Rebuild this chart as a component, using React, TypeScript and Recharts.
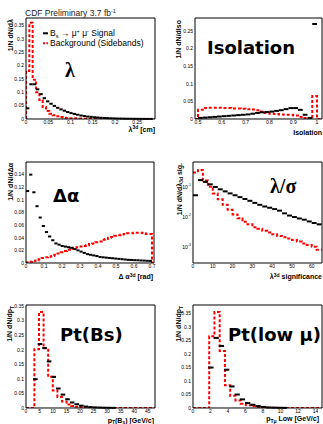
import { ComposedChart, Line, Scatter, ErrorBar, XAxis, YAxis } from 'recharts'

// λ 3D decay length, bins of 0.0075 cm starting at 0
const LAM_START = 0
const LAM_BIN = 0.0075
const lamSignal = [0.04, 0.13, 0.13, 0.111, 0.093, 0.078, 0.066, 0.057, 0.049, 0.042, 0.036, 0.031, 0.026, 0.022, 0.019, 0.016, 0.013, 0.011, 0.009, 0.008, 0.0065, 0.0055, 0.0045, 0.004, 0.0033, 0.0027, 0.0022, 0.0018, 0.0015, 0.0012, 0.001, 0.0008, 0.0007, 0.0006, 0.0005, 0.0004, 0.0003, 0.0003]
const lamBackground = [0.18, 0.36, 0.147, 0.1, 0.071, 0.045, 0.03, 0.02, 0.014, 0.01, 0.007, 0.005, 0.004, 0.003, 0.0025, 0.002, 0.0015, 0.0012, 0.001, 0.0008, 0.0007, 0.0006, 0.0005, 0.0005, 0.0004, 0.0004, 0.0003, 0.0003, 0.0003, 0.0002, 0.0002, 0.0002, 0.0002, 0.0001, 0.0001, 0.0001, 0.0001, 0.0001]
const lamXTicks = [0, 0.05, 0.1, 0.15, 0.2, 0.25]
const lamYTicks = [0, 0.05, 0.1, 0.15, 0.2, 0.25, 0.3, 0.35]

// isolation, bins of 0.02 from 0.5
const ISO_START = 0.5
const ISO_BIN = 0.02
const isoSignal = [0.003, 0.004, 0.005, 0.006, 0.007, 0.008, 0.009, 0.01, 0.011, 0.012, 0.013, 0.015, 0.017, 0.019, 0.02, 0.021, 0.023, 0.025, 0.028, 0.031, 0.031, 0.026, 0.012, 0.003, 0.27]
const isoBackground = [0.026, 0.031, 0.032, 0.032, 0.032, 0.031, 0.031, 0.03, 0.03, 0.029, 0.028, 0.027, 0.025, 0.021, 0.017, 0.015, 0.014, 0.013, 0.012, 0.012, 0.01, 0.006, 0.003, 0.001, 0.065]
const isoXTicks = [0.5, 0.6, 0.7, 0.8, 0.9, 1]
const isoYTicks = [0, 0.05, 0.1, 0.15, 0.2, 0.25]

// Δα 3D pointing angle, bins of 0.0175 rad
const DA_START = 0
const DA_BIN = 0.0175
const daSignal = [0.114, 0.14, 0.112, 0.09, 0.072, 0.0586, 0.049, 0.042, 0.036, 0.031, 0.029, 0.027, 0.026, 0.025, 0.024, 0.022, 0.02, 0.018, 0.016, 0.014, 0.013, 0.012, 0.011, 0.0095, 0.009, 0.0085, 0.008, 0.0075, 0.007, 0.0065, 0.006, 0.0055, 0.005, 0.0048, 0.0045, 0.0043, 0.004, 0.0038, 0.0035, 0.0033]
const daBackground = [0.001, 0.002, 0.003, 0.004, 0.006, 0.008, 0.009, 0.01, 0.011, 0.013, 0.015, 0.017, 0.019, 0.021, 0.022, 0.024, 0.025, 0.026, 0.027, 0.028, 0.03, 0.031, 0.033, 0.034, 0.037, 0.038, 0.04, 0.041, 0.043, 0.044, 0.045, 0.046, 0.047, 0.047, 0.048, 0.048, 0.048, 0.047, 0.046, 0.046]
const daXTicks = [0, 0.1, 0.2, 0.3, 0.4, 0.5, 0.6, 0.7]
const daYTicks = [0, 0.02, 0.04, 0.06, 0.08, 0.1, 0.12, 0.14]

// λ/σ significance (log y), bins of 2.5
const SIG_START = 0
const SIG_BIN = 2.5
const sigSignal = [0.052, 0.166, 0.145, 0.12, 0.098, 0.082, 0.07, 0.06, 0.052, 0.045, 0.039, 0.034, 0.029, 0.025, 0.022, 0.02, 0.018, 0.016, 0.013, 0.011, 0.0098, 0.0088, 0.008, 0.007, 0.0062, 0.0056]
const sigBackground = [0.3, 0.36, 0.16, 0.1, 0.06, 0.038, 0.025, 0.017, 0.012, 0.0089, 0.0068, 0.0056, 0.0045, 0.004, 0.0034, 0.003, 0.0026, 0.0023, 0.0021, 0.0019, 0.0017, 0.0015, 0.0013, 0.00115, 0.001, 0.0008]
const sigXTicks = [0, 10, 20, 30, 40, 50, 60]
const sigYTicks = [0.001, 0.01, 0.1]

// pT(Bs), bins of 1.7 GeV/c
const PT_BIN = 1.7
const PT_SIG_START = 2.6
const PT_BKG_START = 3.1
const ptSignal = [0.099, 0.22, 0.206, 0.16, 0.107, 0.067, 0.046, 0.03, 0.019, 0.013, 0.008, 0.005, 0.003, 0.002, 0.0015, 0.001, 0.0007, 0.0005]
const ptBackground = [0.202, 0.33, 0.205, 0.107, 0.06, 0.038, 0.022, 0.012, 0.007, 0.004, 0.002, 0.001, 0.0005]
const ptXTicks = [0, 5, 10, 15, 20, 25, 30, 35, 40, 45]
const ptYTicks = [0, 0.05, 0.1, 0.15, 0.2, 0.25, 0.3, 0.35]

// pT of the softer muon, bins of 0.6 GeV/c
const MU_BIN = 0.6
const MU_SIG_START = 1.75
const MU_BKG_START = 1.85
const muSignal = [0.15, 0.26, 0.23, 0.142, 0.08, 0.05, 0.032, 0.0185, 0.012, 0.007, 0.004, 0.002, 0.0012, 0.0008, 0.0005]
const muBackground = [0.266, 0.356, 0.211, 0.084, 0.045, 0.028, 0.016, 0.01, 0.006, 0.004, 0.002, 0.001, 0.0005]
const muXTicks = [0, 2, 4, 6, 8, 10, 12, 14]
const muYTicks = [0, 0.05, 0.1, 0.15, 0.2, 0.25, 0.3, 0.35]

const RED = '#f00'
const ML = 26
const MT = 16
const MR = 4
const MB = 18
const THIN = 0.01 // axes must have a non-zero size or Recharts skips them

type Pt = { x: number; y: number; ex?: number }

// signal: one point per bin centre with half-width as x error
function bins(start: number, width: number, vals: number[]): Pt[] {
  return vals.map((v, i) => ({ x: start + width * (i + 0.5), y: v, ex: width / 2 }))
}

// background: outline drawn as a stepAfter line through the bin edges
function outline(start: number, width: number, vals: number[], range: [number, number] | null): Pt[] {
  const pts: Pt[] = []
  if (range) pts.push({ x: range[0], y: 0 })
  vals.forEach((v, i) => pts.push({ x: start + width * i, y: v }))
  const end = start + width * vals.length
  if (range) {
    pts.push({ x: end, y: 0 })
    pts.push({ x: range[1], y: 0 })
  } else {
    pts.push({ x: end, y: vals[vals.length - 1] })
  }
  return pts
}

function minor(a: number, b: number, step: number): number[] {
  const out: number[] = []
  for (let v = a; v <= b + 1e-9; v += step) out.push(Math.round(v * 1e6) / 1e6)
  return out
}

function logMinor(lo: number, hi: number): number[] {
  const out: number[] = []
  for (let d = -4; d <= 0; d++) for (let m = 1; m <= 9; m++) {
    const v = m * Math.pow(10, d)
    if (v >= lo && v <= hi) out.push(v)
  }
  return out
}

function PowTick({ x, y, payload }: any) {
  const e = Math.round(Math.log10(payload.value))
  return (
    <text x={x} y={y} dy={2} textAnchor="end" fontSize={5} fill="#000">
      10<tspan dy={-2.5} fontSize={3.5}>{e}</tspan>
    </text>
  )
}

interface PanelProps {
  left: number; top: number; w: number; h: number
  xDomain: [number, number]; yDomain: [number, number]
  xTicks: number[]; yTicks: number[]; xMinor: number[]; yMinor: number[]
  log?: boolean
  sig: Pt[]; bkg: Pt[]
}

function Panel(p: PanelProps) {
  const yScale = p.log ? 'log' : 'linear'
  const ax = { type: 'number' as const, allowDataOverflow: true, interval: 0 as const, stroke: '#000' }
  const xa = { ...ax, domain: p.xDomain, height: THIN }
  const ya = { ...ax, domain: p.yDomain, scale: yScale as any, width: THIN }
  return (
    <div style={{ position: 'absolute', left: p.left - ML, top: p.top - MT }}>
      <ComposedChart width={p.w + ML + MR} height={p.h + MT + MB} margin={{ top: MT, right: MR, bottom: MB, left: ML }}>
        {/* inward ticks on all four sides, frame from the top/right axis lines */}
        <XAxis xAxisId="b1" {...xa} ticks={p.xTicks} mirror tick={false} tickSize={3.5} axisLine={false} />
        <XAxis xAxisId="b2" {...xa} ticks={p.xMinor} mirror tick={false} tickSize={1.8} axisLine={false} />
        <XAxis xAxisId="t1" {...xa} orientation="top" ticks={p.xTicks} mirror tick={false} tickSize={3.5} />
        <XAxis xAxisId="t2" {...xa} orientation="top" ticks={p.xMinor} mirror tick={false} tickSize={1.8} axisLine={false} />
        <YAxis yAxisId="l1" {...ya} ticks={p.yTicks} mirror tick={false} tickSize={3.5} axisLine={false} />
        <YAxis yAxisId="l2" {...ya} ticks={p.yMinor} mirror tick={false} tickSize={1.8} axisLine={false} />
        <YAxis yAxisId="r1" {...ya} orientation="right" ticks={p.yTicks} mirror tick={false} tickSize={3.5} />
        <YAxis yAxisId="r2" {...ya} orientation="right" ticks={p.yMinor} mirror tick={false} tickSize={1.8} axisLine={false} />
        <XAxis xAxisId="x" dataKey="x" {...xa} ticks={p.xTicks} tickLine={false} tickSize={0} tickMargin={1.5}
          tick={{ fontSize: 5, fill: '#000' }} />
        <YAxis yAxisId="y" dataKey="y" {...ya} ticks={p.yTicks} tickLine={false} tickSize={0} tickMargin={2}
          tick={p.log ? PowTick : { fontSize: 5, fill: '#000' }} />
        <Line xAxisId="x" yAxisId="y" data={p.bkg} dataKey="y" type="stepAfter" stroke={RED}
          strokeWidth={2} strokeDasharray="3 2" dot={false} isAnimationActive={false} />
        <Scatter xAxisId="x" yAxisId="y" data={p.sig} fill="#000" shape={() => <g />} isAnimationActive={false}>
          <ErrorBar dataKey="ex" direction="x" width={0} stroke="#000" strokeWidth={2} isAnimationActive={false} />
        </Scatter>
      </ComposedChart>
    </div>
  )
}

const SANS = "'Liberation Sans', Arial, sans-serif"
const BIG = "'DejaVu Sans', sans-serif"
const SERIF = "'Liberation Serif', 'DejaVu Serif', serif"

export default function App() {
  const lamX: [number, number] = [0, 0.29]
  const isoX: [number, number] = [0.4874, 1.021]
  const daX: [number, number] = [0, 0.711]
  const sigX: [number, number] = [0, 65.2]
  const ptX: [number, number] = [0, 47.7]
  const muX: [number, number] = [0, 14.75]
  const sigY: [number, number] = [0.00029, 0.665]

  return (
    <div style={{ position: 'absolute', left: 0, top: 0, width: 323, height: 424, overflow: 'hidden', background: '#fff', fontFamily: SANS }}>
      <Panel left={26} top={18} w={129} h={101} xDomain={lamX} yDomain={[0, 0.378]}
        xTicks={lamXTicks} yTicks={lamYTicks} xMinor={minor(0, 0.29, 0.01)} yMinor={minor(0, 0.37, 0.01)}
        sig={bins(LAM_START, LAM_BIN, lamSignal)} bkg={outline(LAM_START, LAM_BIN, lamBackground, lamX)} />
      <Panel left={195} top={18} w={127} h={101} xDomain={isoX} yDomain={[0, 0.287]}
        xTicks={isoXTicks} yTicks={isoYTicks} xMinor={minor(0.5, 1.02, 0.02)} yMinor={minor(0, 0.28, 0.01)}
        sig={bins(ISO_START, ISO_BIN, isoSignal)} bkg={outline(ISO_START, ISO_BIN, isoBackground, isoX)} />
      <Panel left={26} top={162} w={128} h={101} xDomain={daX} yDomain={[0, 0.16]}
        xTicks={daXTicks} yTicks={daYTicks} xMinor={minor(0, 0.71, 0.02)} yMinor={minor(0, 0.16, 0.005)}
        sig={bins(DA_START, DA_BIN, daSignal)} bkg={outline(DA_START, DA_BIN, daBackground, daX)} />
      <Panel left={193} top={162} w={129} h={101} xDomain={sigX} yDomain={sigY} log
        xTicks={sigXTicks} yTicks={sigYTicks} xMinor={minor(0, 65, 2)} yMinor={logMinor(sigY[0], sigY[1])}
        sig={bins(SIG_START, SIG_BIN, sigSignal)} bkg={outline(SIG_START, SIG_BIN, sigBackground, null)} />
      <Panel left={26} top={305} w={129} h={103} xDomain={ptX} yDomain={[0, 0.354]}
        xTicks={ptXTicks} yTicks={ptYTicks} xMinor={minor(0, 47, 1)} yMinor={minor(0, 0.35, 0.01)}
        sig={bins(PT_SIG_START, PT_BIN, ptSignal)} bkg={outline(PT_BKG_START, PT_BIN, ptBackground, ptX)} />
      <Panel left={193} top={305} w={129} h={103} xDomain={muX} yDomain={[0, 0.382]}
        xTicks={muXTicks} yTicks={muYTicks} xMinor={minor(0, 14.5, 0.5)} yMinor={minor(0, 0.38, 0.01)}
        sig={bins(MU_SIG_START, MU_BIN, muSignal)} bkg={outline(MU_BKG_START, MU_BIN, muBackground, muX)} />

      <svg width={323} height={424} style={{ position: 'absolute', left: 0, top: 0, pointerEvents: 'none' }} fontFamily={SANS} fill="#000">
        <text x={25} y={15.7} fontSize={8.5} fill="#222">CDF Preliminary 3.7 fb<tspan dy={-3} fontSize={5.5}>-1</tspan></text>

        {/* legend */}
        <line x1={43} x2={48} y1={33.3} y2={33.3} stroke="#000" strokeWidth={2} />
        <text x={50} y={36.3} fontSize={8.5}>
          B<tspan fontSize={5.5} dy={1.5}>s</tspan><tspan dy={-1.5}> → μ</tspan><tspan fontSize={5.5} dy={-3}>+</tspan><tspan dy={3}> μ</tspan><tspan fontSize={5.5} dy={-3}>-</tspan><tspan dy={3}> Signal</tspan>
        </text>
        <line x1={43} x2={48} y1={43.3} y2={43.3} stroke={RED} strokeWidth={2} strokeDasharray="2 1.5" />
        <text x={50} y={46.3} fontSize={8.5}>Background (Sidebands)</text>

        {/* big panel labels */}
        <text x={65} y={76.5} fontSize={20} fontWeight="bold" fontFamily={SERIF}>λ</text>
        <text x={207} y={54} fontSize={18} fontWeight="bold" fontFamily={BIG}>Isolation</text>
        <text x={53} y={201.5} fontSize={18} fontWeight="bold" fontFamily={BIG}>Δα</text>
        <text x={270} y={193} fontSize={20} fontWeight="bold" fontFamily={SERIF}>λ/σ</text>
        <text x={60} y={341} fontSize={18} fontWeight="bold" fontFamily={BIG}>Pt(Bs)</text>
        <text x={228} y={341} fontSize={18} fontWeight="bold" fontFamily={BIG}>Pt(low μ)</text>

        {/* y titles */}
        <g fontSize={7} fontWeight="bold" textAnchor="end">
          <text x={12.5} y={19} transform="rotate(-90 12.5 19)">1/N dN/dλ</text>
          <text x={180.5} y={20} transform="rotate(-90 180.5 20)">1/N dN/dIso</text>
          <text x={12.5} y={163} transform="rotate(-90 12.5 163)">1/N dN/dΔα</text>
          <text x={181.5} y={163} transform="rotate(-90 181.5 163)">1/N dN/dλ<tspan fontSize={5} dy={1.5}>3d</tspan><tspan dy={-1.5}> sig.</tspan></text>
          <text x={12} y={306} transform="rotate(-90 12 306)">1/N dN/dp<tspan fontSize={5} dy={1.5}>T</tspan></text>
          <text x={181} y={306} transform="rotate(-90 181 306)">1/N dN/dp<tspan fontSize={5} dy={1.5}>T</tspan></text>
        </g>

        {/* x titles */}
        <g fontSize={7} fontWeight="bold" textAnchor="end">
          <text x={155} y={131.5}>λ<tspan fontSize={5} dy={-2.5}>3d</tspan><tspan dy={2.5}> [cm]</tspan></text>
          <text x={322} y={135}>Isolation</text>
          <text x={153} y={279}>Δ α<tspan fontSize={5} dy={-2.5}>3d</tspan><tspan dy={2.5}> [rad]</tspan></text>
          <text x={322} y={279}>λ<tspan fontSize={5} dy={-2.5}>3d</tspan><tspan dy={2.5}> significance</tspan></text>
          <text x={154} y={422.5}>p<tspan fontSize={5} dy={1.5}>T</tspan><tspan dy={-1.5}>(B</tspan><tspan fontSize={5} dy={1.5}>s</tspan><tspan dy={-1.5}>) [GeV/c]</tspan></text>
          <text x={319} y={421}>p<tspan fontSize={5} dy={1.5}>Tμ</tspan><tspan dy={-1.5}> Low [GeV/c]</tspan></text>
        </g>
      </svg>
    </div>
  )
}
